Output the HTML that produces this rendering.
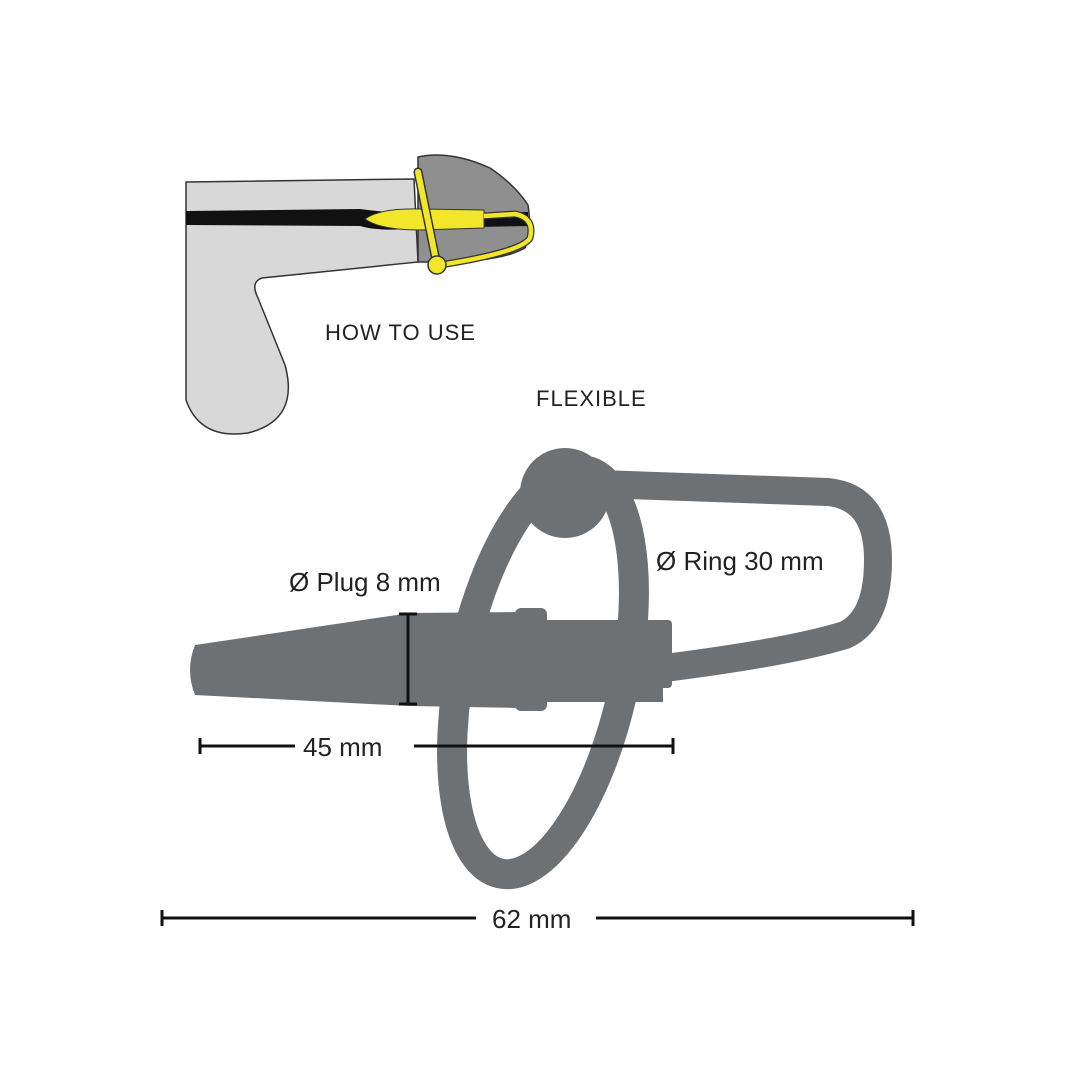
<!DOCTYPE html>
<html><head><style>
html,body{margin:0;padding:0;background:#fff;}
svg{display:block}
text{font-family:"Liberation Sans",sans-serif;fill:#222}
</style></head><body>
<svg width="1080" height="1080" viewBox="0 0 1080 1080" xmlns="http://www.w3.org/2000/svg">
<path d="M186,182 L414,179 L418,262 L262,278 Q250,282 258,298 L285,365 Q300,420 248,433 Q200,440 186,400 Z" fill="#d8d8d8" stroke="#333" stroke-width="1.5"/>
<path d="M418,157 Q450,150 490,168 Q515,185 528,205 Q532,230 525,248 Q500,262 440,262 L418,262 Z" fill="#8f8f8f" stroke="#333" stroke-width="1.5"/>
<path d="M186,211 L360,209 Q380,212 420,214 L528,212 L528,226 L420,228 Q380,232 360,226 L186,225 Z" fill="#111"/>
<path d="M365,219 Q380,208 420,209 L484,210 L484,228 L420,230 Q380,230 365,219 Z" fill="#f2e62a" stroke="#333" stroke-width="1"/>
<path d="M484,216 L515,214 Q535,218 530,238 Q522,252 440,265" fill="none" stroke="#333" stroke-width="7"/>
<path d="M484,216 L515,214 Q535,218 530,238 Q522,252 440,265" fill="none" stroke="#f2e62a" stroke-width="4.5"/>
<line x1="418" y1="172" x2="437" y2="265" stroke="#333" stroke-width="9" stroke-linecap="round"/>
<line x1="418" y1="172" x2="437" y2="265" stroke="#f2e62a" stroke-width="6" stroke-linecap="round"/>
<circle cx="437" cy="265" r="9" fill="#f2e62a" stroke="#333" stroke-width="1.5"/>
<text x="325" y="340" font-size="22" letter-spacing="1">HOW TO USE</text>
<text x="536" y="406" font-size="22" letter-spacing="1">FLEXIBLE</text>
<path d="M600,484 L828,492 Q878,497 878,560 Q878,620 845,635 Q790,652 665,668" fill="none" stroke="#6e7174" stroke-width="28" stroke-linejoin="round"/>
<g fill="#6e7174">
<path d="M195,645 L410,613 L520,612 L520,708 L410,706 L195,695 Q185,670 195,645 Z"/>
<rect x="515" y="608" width="32" height="103" rx="6"/>
<rect x="545" y="620" width="118" height="82"/>
<rect x="656" y="620" width="16" height="68" rx="4"/>
</g>
<ellipse cx="543" cy="672" rx="82" ry="206" transform="rotate(12 543 672)" fill="none" stroke="#6e7174" stroke-width="30"/>
<circle cx="565" cy="493" r="45" fill="#6e7174"/>
<line x1="408" y1="614" x2="408" y2="704" stroke="#111" stroke-width="3"/>
<line x1="399" y1="614" x2="417" y2="614" stroke="#111" stroke-width="3"/>
<line x1="399" y1="704" x2="417" y2="704" stroke="#111" stroke-width="3"/>
<g stroke="#111" stroke-width="3">
<line x1="200" y1="746" x2="295" y2="746"/><line x1="414" y1="746" x2="673" y2="746"/>
<line x1="200" y1="738" x2="200" y2="754"/><line x1="673" y1="738" x2="673" y2="754"/>
<line x1="162" y1="918" x2="476" y2="918"/><line x1="596" y1="918" x2="913" y2="918"/>
<line x1="162" y1="910" x2="162" y2="926"/><line x1="913" y1="910" x2="913" y2="926"/>
</g>
<text x="289" y="591" font-size="26">Ø Plug 8 mm</text>
<text x="656" y="570" font-size="26">Ø Ring 30 mm</text>
<text x="303" y="756" font-size="26">45 mm</text>
<text x="492" y="928" font-size="26">62 mm</text>
</svg>
</body></html>
